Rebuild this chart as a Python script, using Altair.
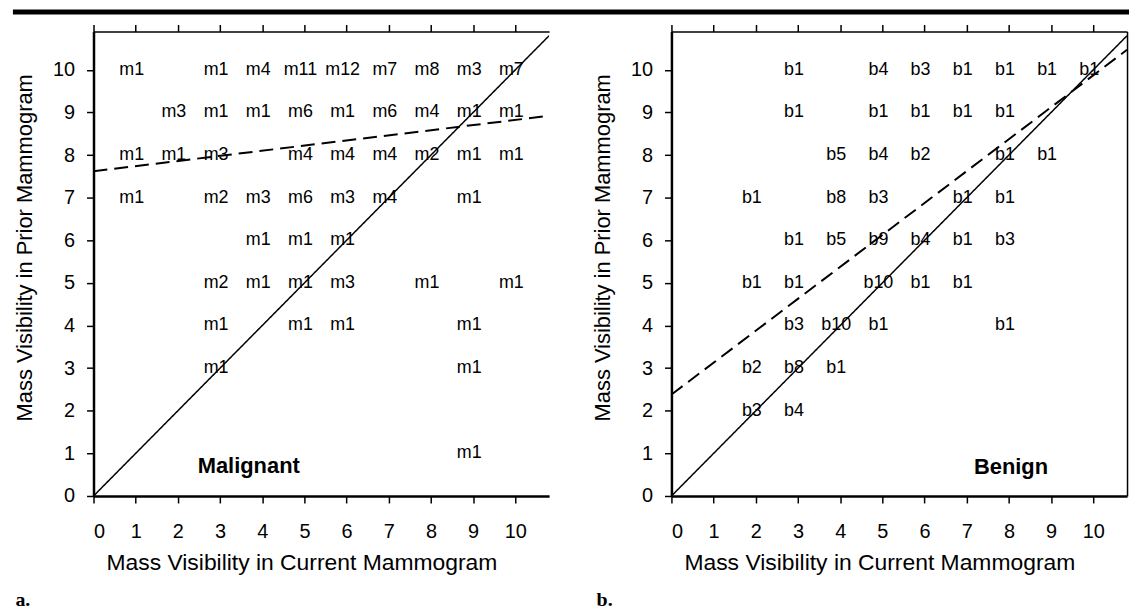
import altair as alt
import pandas as pd

FONT = "Liberation Sans"

# ---- Panel a: malignant masses (current visibility, prior visibility, count) ----
mal_current = [1, 3, 4, 5, 6, 7, 8, 9, 10,
               2, 3, 4, 5, 6, 7, 8, 9, 10,
               1, 2, 3, 5, 6, 7, 8, 9, 10,
               1, 3, 4, 5, 6, 7, 9,
               4, 5, 6,
               3, 4, 5, 6, 8, 10,
               3, 5, 6, 9,
               3, 9,
               9]
mal_prior = [10, 10, 10, 10, 10, 10, 10, 10, 10,
             9, 9, 9, 9, 9, 9, 9, 9, 9,
             8, 8, 8, 8, 8, 8, 8, 8, 8,
             7, 7, 7, 7, 7, 7, 7,
             6, 6, 6,
             5, 5, 5, 5, 5, 5,
             4, 4, 4, 4,
             3, 3,
             1]
mal_count = [1, 1, 4, 11, 12, 7, 8, 3, 7,
             3, 1, 1, 6, 1, 6, 4, 1, 1,
             1, 1, 3, 4, 4, 4, 2, 1, 1,
             1, 2, 3, 6, 3, 4, 1,
             1, 1, 1,
             2, 1, 1, 3, 1, 1,
             1, 1, 1, 1,
             1, 1,
             1]

# ---- Panel b: benign masses ----
ben_current = [3, 5, 6, 7, 8, 9, 10,
               3, 5, 6, 7, 8,
               4, 5, 6, 8, 9,
               2, 4, 5, 7, 8,
               3, 4, 5, 6, 7, 8,
               2, 3, 5, 6, 7,
               3, 4, 5, 8,
               2, 3, 4,
               2, 3]
ben_prior = [10, 10, 10, 10, 10, 10, 10,
             9, 9, 9, 9, 9,
             8, 8, 8, 8, 8,
             7, 7, 7, 7, 7,
             6, 6, 6, 6, 6, 6,
             5, 5, 5, 5, 5,
             4, 4, 4, 4,
             3, 3, 3,
             2, 2]
ben_count = [1, 4, 3, 1, 1, 1, 1,
             1, 1, 1, 1, 1,
             5, 4, 2, 1, 1,
             1, 8, 3, 1, 1,
             1, 5, 9, 4, 1, 3,
             1, 1, 10, 1, 1,
             3, 10, 1, 1,
             2, 8, 1,
             3, 4]

# ---- Reference lines (identity and regression fits) ----
identity_x = [0, 10.8]
identity_y = [0, 10.8]
mal_fit_x = [0, 10.8]
mal_fit_y = [7.62, 8.92]
ben_fit_x = [0, 10.8]
ben_fit_y = [2.38, 10.47]

X_DOMAIN = [0, 10.8]
Y_DOMAIN = [0, 10.9]
TICKS = [0, 1, 2, 3, 4, 5, 6, 7, 8, 9, 10]
W, H = 458, 467


def panel(cur, prior, count, prefix, fit_x, fit_y, name, name_x, name_y,
          tag, right_frame, top_bar):
    pts = pd.DataFrame({"cur": cur, "prior": prior,
                        "label": [prefix + str(c) for c in count]})
    lines = pd.DataFrame({
        "x": identity_x + fit_x,
        "y": identity_y + fit_y,
        "series": ["identity", "identity", "fit", "fit"],
    })
    xs = alt.Scale(domain=X_DOMAIN, nice=False, zero=False)
    ys = alt.Scale(domain=Y_DOMAIN, nice=False, zero=False)

    text_layer = alt.Chart(pts).mark_text(
        font=FONT, fontSize=18, dx=-4, baseline="middle", align="center", color="black"
    ).encode(
        x=alt.X("cur:Q", scale=xs, axis=alt.Axis(
            values=TICKS, title="Mass Visibility in Current Mammogram",
            orient="bottom", domainWidth=2.5, domainColor="black",
            tickWidth=1.5, tickSize=7, tickColor="black",
            labelFontSize=20, labelPadding=19, labelFont=FONT, labelColor="black",
            titleFont=FONT, titleFontSize=23, titleFontWeight="normal", titleColor="black",
            titlePadding=10, titleX=209, grid=False)),
        y=alt.Y("prior:Q", scale=ys, axis=alt.Axis(
            values=TICKS, title="Mass Visibility in Prior Mammogram",
            orient="left", domainWidth=2.5, domainColor="black",
            tickWidth=1.5, tickSize=7, tickColor="black",
            labelFontSize=20, labelPadding=12, labelFont=FONT, labelColor="black",
            titleFont=FONT, titleFontSize=22, titleFontWeight="normal", titleColor="black",
            titlePadding=16, titleY=217, grid=False)),
        text="label:N",
    )

    if right_frame:
        y_axis2 = alt.Axis(orient="right", labels=False, ticks=False, title=None,
                           domainWidth=1.5, domainColor="black", grid=False)
    else:
        y_axis2 = None

    line_layer = alt.Chart(lines).mark_line(color="black", clip=True).encode(
        x=alt.X("x:Q", scale=xs, axis=alt.Axis(
            orient="top", values=TICKS, labels=False, title=None,
            domainWidth=1.5, domainColor="black", tickColor="black",
            tickWidth=1.5, tickSize=7, grid=False)),
        y=alt.Y("y:Q", scale=ys, axis=y_axis2),
        detail="series:N",
        strokeDash=alt.StrokeDash("series:N", legend=None, scale=alt.Scale(
            domain=["identity", "fit"], range=[[1, 0], [14, 7]])),
        strokeWidth=alt.StrokeWidth("series:N", legend=None, scale=alt.Scale(
            domain=["identity", "fit"], range=[1.5, 2])),
    )

    name_layer = alt.Chart(pd.DataFrame({"x": [name_x], "y": [name_y], "t": [name]})).mark_text(
        font=FONT, fontSize=22, fontWeight="bold", baseline="middle", align="center", color="black"
    ).encode(
        x=alt.X("x:Q", scale=xs, axis=None),
        y=alt.Y("y:Q", scale=ys, axis=None),
        text="t:N",
    )

    layers = [text_layer, line_layer, name_layer]
    if top_bar:
        bar = alt.Chart(pd.DataFrame({"a": [0]})).mark_rule(color="black", strokeWidth=5).encode(
            x=alt.value(-81), x2=alt.value(1041), y=alt.value(-19.5))
        layers.append(bar)

    return alt.layer(*layers).resolve_axis(x="independent", y="independent").properties(
        width=W, height=H,
        title=alt.TitleParams(tag, orient="bottom", anchor="start", frame="bounds",
                              font="Liberation Serif", fontWeight="bold", fontSize=20,
                              offset=16, dx=5, color="black"))


left = panel(mal_current, mal_prior, mal_count, "m", mal_fit_x, mal_fit_y,
             "Malignant", 3.68, 0.70, "a.", right_frame=False, top_bar=True)
right = panel(ben_current, ben_prior, ben_count, "b", ben_fit_x, ben_fit_y,
              "Benign", 8.05, 0.68, "b.", right_frame=True, top_bar=False)

chart = alt.hconcat(left, right, spacing=123, bounds="flush").properties(
    padding={"left": 10, "top": 8, "right": 0, "bottom": 0},
    background="white",
).configure_view(stroke=None).configure_axis(
    domainColor="black", tickColor="black", labelColor="black", titleColor="black"
)

chart.save("out.html", embed_options={"renderer": "svg", "actions": False})
